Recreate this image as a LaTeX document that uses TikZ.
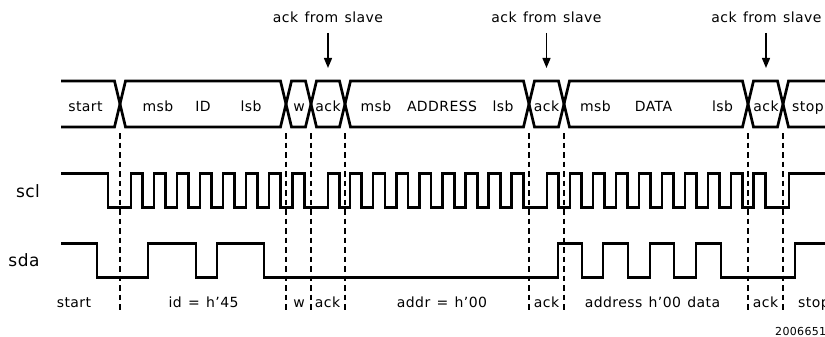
\documentclass[tikz,border=0pt]{standalone}
\usepackage{fontspec}
\setmainfont{DejaVu Sans}[LetterSpace=3,WordSpace=1.3]
\usetikzlibrary{arrows.meta}
\begin{document}
\begin{tikzpicture}[x=1pt,y=-1pt,
  wave/.style={line width=2.7pt, line join=miter},
  guide/.style={line width=1.3pt, dash pattern=on 5.5pt off 4pt},
  lbl/.style={inner sep=0pt, anchor=base, font=\fontsize{14}{16}\selectfont},
  lblw/.style={inner sep=0pt, anchor=base west, font=\fontsize{14}{16}\selectfont},
  sig/.style={inner sep=0pt, anchor=base, font=\fontsize{17}{19}\selectfont},
  pointer/.style={line width=1.4pt, -{Triangle[length=10pt,width=8pt]}},
  fig/.style={inner sep=0pt, anchor=base west, font=\fontsize{11}{13}\selectfont}]
\useasboundingbox (0,0) rectangle (825,337);
\clip (0,0) rectangle (825,337);

% ---- bus (two snakes forming the X crossings)
\draw[wave] (61,81) -- (114.5,81) -- (125.5,127) -- (280.5,127) -- (291.5,81) -- (305.5,81) -- (316.5,127)
  -- (339.5,127) -- (350.5,81) -- (523.5,81) -- (534.5,127) -- (558.5,127) -- (569.5,81) -- (742.5,81)
  -- (753.5,127) -- (777.5,127) -- (788.5,81) -- (835,81);
\draw[wave] (61,127) -- (114.5,127) -- (125.5,81) -- (280.5,81) -- (291.5,127) -- (305.5,127) -- (316.5,81)
  -- (339.5,81) -- (350.5,127) -- (523.5,127) -- (534.5,81) -- (558.5,81) -- (569.5,127) -- (742.5,127)
  -- (753.5,81) -- (777.5,81) -- (788.5,127) -- (835,127);

% ---- bus labels
\node[lbl] (bstart) at (85.5,111) {start};
\node[lbl] (bmsb1) at (158,111) {msb};
\node[lbl] (bid) at (203,111) {ID};
\node[lbl] (blsb1) at (251,111) {lsb};
\node[lbl] (bw) at (299,111) {w};
\node[lbl] (back1) at (328,111) {ack};
\node[lbl] (bmsb2) at (376,111) {msb};
\node[lbl] (baddr) at (442,111) {ADDRESS};
\node[lbl] (blsb2) at (503,111) {lsb};
\node[lbl] (back2) at (546.5,111) {ack};
\node[lbl] (bmsb3) at (595.5,111) {msb};
\node[lbl] (bdata) at (653.5,111) {DATA};
\node[lbl] (blsb3) at (722.5,111) {lsb};
\node[lbl] (back3) at (766,111) {ack};
\node[lblw] (bstop) at (792,111) {stop};

% ---- ack from slave labels and arrows
\node[lbl] (afs1) at (328,23) {ack from slave};
\node[lbl] (afs2) at (546.5,23) {ack from slave};
\node[lbl] (afs3) at (766.5,23) {ack from slave};
\coordinate (p1s) at (328,33); \coordinate (p1e) at (328,68);
\coordinate (p2s) at (546.5,33); \coordinate (p2e) at (546.5,68);
\coordinate (p3s) at (766,33); \coordinate (p3e) at (766,68);
\draw[pointer] (p1s) -- (p1e);
\draw[pointer] (p2s) -- (p2e);
\draw[pointer] (p3s) -- (p3e);

% ---- dashed guides
\foreach \gx in {120,286,311,345,529,564,748,783}
  \draw[guide] (\gx,133) -- (\gx,313);

% ---- scl
\def\sh{173.3}
\def\sl{207.3}
\draw[wave] (61,\sh) -- (108,\sh) -- (108,\sl)
  foreach \r in {131,154,177,200,223,246,269,292.5,328,350,373.1,396.2,419.3,442.4,465.5,488.6,511.7,547,570,593,616,639,662,685,708,731,753.5}
  { -- (\r,\sl) -- (\r,\sh) -- ({\r+11.8},\sh) -- ({\r+11.8},\sl) }
  -- (789,\sl) -- (789,\sh) -- (835,\sh);

% ---- sda
\def\dh{243.3}
\def\dl{277.3}
\draw[wave] (61,\dh) -- (97,\dh) -- (97,\dl) -- (148,\dl) -- (148,\dh) -- (196,\dh) -- (196,\dl)
  -- (217,\dl) -- (217,\dh) -- (264,\dh) -- (264,\dl) -- (558,\dl) -- (558,\dh) -- (582,\dh)
  -- (582,\dl) -- (603,\dl) -- (603,\dh) -- (628,\dh) -- (628,\dl) -- (650,\dl) -- (650,\dh)
  -- (674,\dh) -- (674,\dl) -- (696,\dl) -- (696,\dh) -- (721,\dh) -- (721,\dl) -- (795,\dl)
  -- (795,\dh) -- (835,\dh);

% ---- signal names
\node[sig] (scl) at (28,197) {scl};
\node[sig] (sda) at (24,266) {sda};

% ---- bottom labels
\node[lbl] (tstart) at (74,307) {start};
\node[lbl] (tid) at (203.5,307) {id = h'45};
\node[lbl] (tw) at (299,307) {w};
\node[lbl] (tack1) at (327.5,307) {ack};
\node[lbl] (taddr) at (442,307) {addr = h'00};
\node[lbl] (tack2) at (546.5,307) {ack};
\node[lbl] (tdata) at (652.5,307) {address h'00 data};
\node[lbl] (tack3) at (765.5,307) {ack};
\node[lblw] (tstop) at (798,307) {stop};

% ---- figure number
\node[fig] (fignum) at (775,335) {20066517};
\end{tikzpicture}
\end{document}
